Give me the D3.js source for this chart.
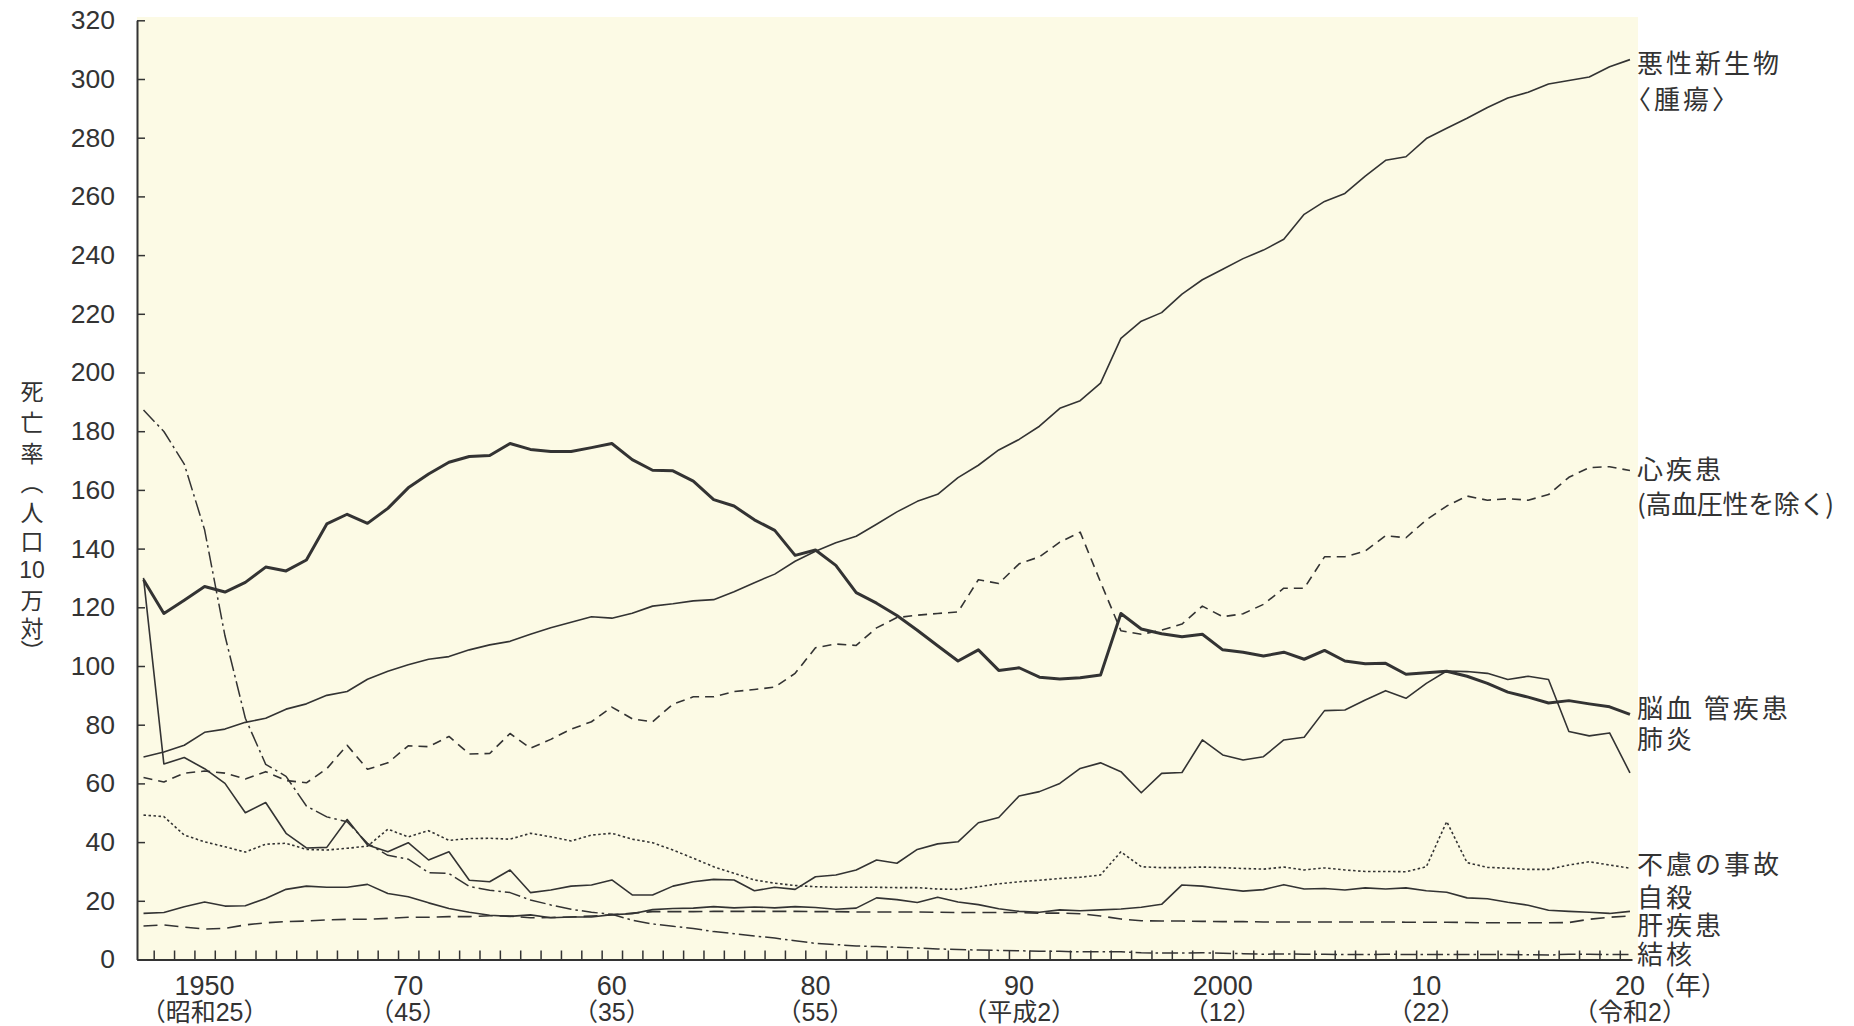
<!DOCTYPE html>
<html lang="ja">
<head>
<meta charset="utf-8">
<script src="https://cdn.jsdelivr.net/npm/d3@7/dist/d3.min.js"></script>
<style>
  body{margin:0;background:#fff;}
  svg{display:block;}
</style>
</head>
<body>
<div id="chart"></div>
<script>

const years=d3.range(1947,2021);

const cancer=[69.0,70.7,73.0,77.4,78.5,80.8,82.2,85.3,87.1,90.0,
  91.3,95.5,98.2,100.4,102.3,103.2,105.5,107.2,108.4,110.8,
  113.0,114.9,116.8,116.3,118.0,120.4,121.2,122.2,122.6,125.3,
  128.4,131.3,135.7,139.1,142.0,144.2,148.3,152.5,156.1,158.5,
  164.2,168.4,173.6,177.2,181.7,187.8,190.4,196.4,211.6,217.5,
  220.4,226.7,231.6,235.2,238.8,241.7,245.4,253.9,258.3,261.0,
  266.9,272.3,273.5,279.7,283.2,286.6,290.3,293.5,295.5,298.3,
  299.5,300.7,304.2,306.6];

const heart=[62.0,60.5,63.5,64.2,63.5,61.5,64.0,61.0,60.2,65.0,
  73.0,64.8,67.0,72.8,72.5,76.0,70.0,70.2,77.0,72.0,
  75.0,78.5,81.0,86.0,82.0,81.0,87.0,89.5,89.5,91.3,
  92.0,92.8,97.5,106.2,107.5,107.0,113.0,116.5,117.3,117.9,
  118.4,129.4,128.1,134.8,137.2,142.2,145.6,128.6,112.0,110.8,
  112.2,114.3,120.4,116.8,117.8,121.0,126.5,126.5,137.2,137.2,
  139.2,144.4,143.7,149.8,154.5,157.9,156.5,157.0,156.5,158.4,
  164.3,167.6,167.9,166.6];

const stroke=[129.4,117.9,122.4,127.1,125.2,128.5,133.7,132.4,136.1,148.4,
  151.7,148.6,153.7,160.7,165.4,169.4,171.4,171.7,175.8,173.8,
  173.1,173.1,174.4,175.8,170.3,166.7,166.5,163.0,156.7,154.5,
  149.8,146.2,137.7,139.5,134.3,125.0,121.4,117.2,112.2,106.9,
  101.7,105.5,98.5,99.4,96.2,95.6,96.0,96.9,117.9,112.6,
  111.0,110.0,110.8,105.5,104.7,103.4,104.7,102.3,105.3,101.7,
  100.8,100.9,97.2,97.7,98.2,96.5,94.1,91.1,89.4,87.4,
  88.2,87.1,86.1,83.5];

const pneumonia=[130.0,66.6,68.8,65.0,60.0,50.0,53.5,43.0,38.0,38.2,
  47.7,39.0,36.7,39.8,33.9,36.7,27.0,26.5,30.5,22.8,
  23.7,25.0,25.4,27.1,22.0,22.0,25.0,26.5,27.3,27.1,
  23.4,24.6,23.9,28.2,28.8,30.5,33.9,32.8,37.5,39.4,
  40.1,46.6,48.4,55.7,57.2,60.0,65.1,67.0,64.0,56.8,
  63.4,63.7,74.8,69.7,68.0,69.1,74.8,75.7,84.8,85.0,
  88.4,91.6,89.0,94.1,98.3,98.1,97.5,95.4,96.5,95.4,
  77.7,76.2,77.2,63.6];

const accident=[49.2,48.7,42.4,40.1,38.4,36.6,39.3,39.6,37.5,37.3,
  37.9,38.6,44.4,41.8,43.9,40.6,41.2,41.3,41.0,43.0,
  41.8,40.4,42.4,43.0,41.0,39.8,37.3,34.5,31.6,29.4,
  27.1,26.0,25.2,24.8,24.6,24.6,24.6,24.5,24.5,24.0,
  23.9,24.8,25.8,26.5,27.0,27.6,28.0,28.8,36.7,31.6,
  31.3,31.3,31.5,31.3,31.0,30.8,31.5,30.5,31.2,30.5,
  30.0,30.0,29.9,31.6,47.0,33.0,31.4,31.1,30.7,30.7,
  32.2,33.3,32.2,31.1];

const suicide=[15.7,16.0,18.0,19.6,18.2,18.3,20.8,23.9,25.0,24.6,
  24.6,25.6,22.5,21.4,19.3,17.4,16.1,15.1,14.7,15.2,
  14.2,14.5,14.5,15.3,15.6,17.0,17.4,17.5,18.0,17.6,
  17.9,17.6,18.0,17.7,17.1,17.5,21.0,20.4,19.4,21.2,
  19.6,18.7,17.3,16.4,16.1,16.9,16.6,16.9,17.2,17.8,
  18.8,25.4,25.0,24.1,23.3,23.8,25.5,24.0,24.2,23.7,
  24.4,24.0,24.4,23.4,22.9,21.0,20.7,19.5,18.5,16.8,
  16.4,16.1,15.7,16.4];

const liver=[11.4,11.8,11.0,10.4,10.6,11.8,12.5,12.9,13.1,13.5,
  13.7,13.7,14.0,14.4,14.4,14.6,14.6,14.9,14.8,14.2,
  14.3,14.5,14.8,15.2,15.8,16.3,16.3,16.3,16.4,16.4,
  16.4,16.4,16.4,16.3,16.3,16.2,16.2,16.2,16.2,16.1,
  16.0,16.0,16.0,16.0,15.8,15.8,15.6,14.8,13.8,13.2,
  13.1,13.1,13.0,12.9,12.9,12.8,12.8,12.8,12.8,12.8,
  12.8,12.8,12.7,12.7,12.7,12.6,12.5,12.5,12.5,12.5,
  12.6,13.7,14.4,14.8];

const tuberculosis=[187.2,179.9,168.8,146.4,110.3,82.2,66.5,62.4,52.3,48.6,
  46.9,39.6,35.5,34.2,29.6,29.3,24.9,23.6,22.8,20.3,
  18.6,17.1,16.1,15.4,13.4,12.1,11.3,10.6,9.5,8.8,
  8.0,7.3,6.4,5.5,5.1,4.6,4.4,4.2,3.9,3.6,
  3.4,3.2,3.1,3.0,2.8,2.8,2.6,2.6,2.6,2.3,
  2.2,2.2,2.3,2.1,2.0,1.8,1.9,1.8,1.8,1.7,
  1.7,1.8,1.7,1.7,1.7,1.7,1.7,1.7,1.6,1.5,
  1.8,1.8,1.7,1.7];

const yTicks=d3.range(0,321,20);
const xTickYears=[1950,1960,1970,1980,1990,2000,2010,2020];
const xTickLabels=["1950","70","60","80","90","2000","10","20"];
const xTickEras=["（昭和25）","（45）","（35）","（55）","（平成2）","（12）","（22）","（令和2）"];
const yTitle=["死","亡","率","︵","人","口","10","万","対","︶"];
const seriesNames=[["悪性新生物","〈腫瘍〉"],["心疾患","(高血圧性を除く)"],["脳血 管疾患"],["肺炎"],
  ["不慮の事故"],["自殺"],["肝疾患"],["結核"]];

const width=1854, height=1026;
const ink="#333";
const latin="'Liberation Sans', Arial, 'Noto Sans CJK JP', sans-serif";
const cjk="'Noto Sans CJK JP', sans-serif";

const svg=d3.select("#chart")
    .append("svg")
    .attr("width",width)
    .attr("height",height);

const x=d3.scaleLinear().domain([1946.68,2020.1]).range([137,1632]);
const y=d3.scaleLinear().domain([0,320]).range([959.5,20.3]);

svg.append("rect")
    .attr("x",137)
    .attr("y",17)
    .attr("width",1501)
    .attr("height",y(0)-17)
    .attr("fill","#fcfae5");

// lines
const series=[
    {values:cancer,w:1.6,dash:null},
    {values:heart,w:1.6,dash:"9,6"},
    {values:stroke,w:3,dash:null},
    {values:pneumonia,w:1.6,dash:null},
    {values:accident,w:1.6,dash:"2.5,2.5"},
    {values:suicide,w:1.6,dash:null},
    {values:liver,w:1.6,dash:"14,7"},
    {values:tuberculosis,w:1.5,dash:"16,4,2.5,4"}
];

const line=d3.line()
    .x((d,i)=>x(years[i]))
    .y(d=>y(d));

svg.selectAll(".series")
    .data(series)
    .enter()
    .append("path")
    .attr("class","series")
    .attr("d",d=>line(d.values))
    .attr("fill","none")
    .attr("stroke",ink)
    .attr("stroke-width",d=>d.w)
    .attr("stroke-dasharray",d=>d.dash)
    .attr("stroke-linejoin","round");

// axes
const yAxis=svg.append("g")
    .attr("transform","translate(137,0)")
    .call(d3.axisLeft(y).tickValues(yTicks).tickSize(-8).tickSizeOuter(0).tickPadding(22));

const xAxis=svg.append("g")
    .attr("transform",`translate(0,${y(0)})`)
    .call(d3.axisBottom(x).tickValues(d3.range(1947.5,2020,1)).tickSize(-9).tickSizeOuter(0).tickFormat(""));

[yAxis,xAxis].forEach(g=>{
    g.select(".domain").attr("stroke",ink).attr("stroke-width",2);
    g.selectAll(".tick line").attr("stroke",ink).attr("stroke-width",1.5);
});

yAxis.selectAll(".tick text")
    .attr("font-family",latin)
    .attr("font-size",26.5)
    .attr("fill",ink);

svg.selectAll(".xlab")
    .data(xTickYears)
    .enter()
    .append("text")
    .attr("class","xlab")
    .attr("x",d=>x(d))
    .attr("y",995)
    .attr("text-anchor","middle")
    .attr("font-family",latin)
    .attr("font-size",27)
    .attr("fill",ink)
    .text((d,i)=>xTickLabels[i]);

svg.selectAll(".xera")
    .data(xTickYears)
    .enter()
    .append("text")
    .attr("class","xera")
    .attr("x",d=>x(d))
    .attr("y",1021)
    .attr("text-anchor","middle")
    .attr("font-family",latin)
    .attr("font-size",25)
    .attr("fill",ink)
    .text((d,i)=>xTickEras[i]);

svg.append("text")
    .attr("x",x(2020)+19)
    .attr("y",995)
    .attr("font-family",cjk)
    .attr("font-size",26)
    .attr("fill",ink)
    .text("（年）");

// y title, written vertically
const titleY=[390,421,452,481,511,540,570,599,627,650];
svg.selectAll(".ytitle")
    .data(yTitle)
    .enter()
    .append("text")
    .attr("class","ytitle")
    .attr("x",32)
    .attr("y",(d,i)=>titleY[i])
    .attr("text-anchor","middle")
    .attr("dominant-baseline","central")
    .attr("font-family",d=>d==="10"?latin:cjk)
    .attr("font-size",23)
    .attr("fill",ink)
    .text(d=>d);

// series labels on the right
const labelY=[[61.5,97],[467,502.5],[706],[737],[862],[895],[923.5],[952]];
seriesNames.forEach((rows,i)=>{
    rows.forEach((t,j)=>{
        const txt=svg.append("text")
            .attr("x",t.startsWith("〈")?1625:1637)
            .attr("y",labelY[i][j])
            .attr("dominant-baseline","central")
            .attr("font-family",cjk)
            .attr("font-size",26)
            .attr("letter-spacing",t.startsWith("(")?0:3)
            .attr("fill",ink)
            .text(t);
        if(t.startsWith("(")) txt.attr("textLength",197).attr("lengthAdjust","spacing");
    });
});

</script>
</body>
</html>
